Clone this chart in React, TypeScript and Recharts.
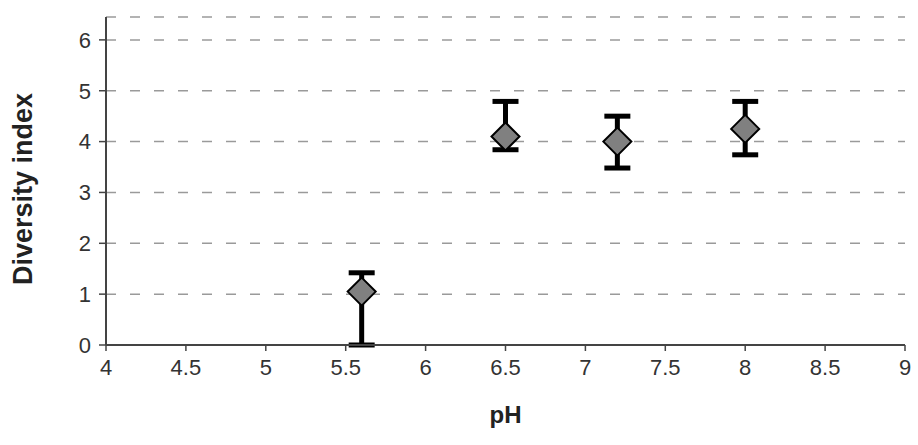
import React from "react";
import {
  ScatterChart,
  Scatter,
  XAxis,
  YAxis,
  CartesianGrid,
  ErrorBar,
  Label,
} from "recharts";

// pH values and diversity index readings with error bar bounds
const phValues = [5.6, 6.5, 7.2, 8.0];
const diversity = [1.05, 4.1, 4.0, 4.25];
const lowerBound = [0, 3.84, 3.48, 3.74];
const upperBound = [1.42, 4.79, 4.5, 4.79];

const xTicks = [4, 4.5, 5, 5.5, 6, 6.5, 7, 7.5, 8, 8.5, 9];
const yTicks = [0, 1, 2, 3, 4, 5, 6];

const data = phValues.map((ph, i) => ({
  ph,
  value: diversity[i],
  err: [diversity[i] - lowerBound[i], upperBound[i] - diversity[i]],
}));

const FONT = "'Liberation Sans', Arial, sans-serif";

const Diamond = (props: any) => {
  const { cx, cy } = props;
  if (cx == null || cy == null) return null;
  const w = 14;
  const h = 14;
  return (
    <polygon
      points={`${cx},${cy - h} ${cx + w},${cy} ${cx},${cy + h} ${cx - w},${cy}`}
      fill="#808080"
      stroke="#000"
      strokeWidth={2}
    />
  );
};

export default function App() {
  return (
    <div style={{ position: "absolute", left: 0, top: 0, background: "#fff" }}>
      <ScatterChart
        width={918}
        height={445}
        margin={{ top: 17, right: 13, left: 0, bottom: 40 }}
      >
        <CartesianGrid
          horizontal
          vertical={false}
          stroke="#9a9a9a"
          strokeWidth={1.5}
          strokeDasharray="10 14"
        />
        <XAxis
          type="number"
          dataKey="ph"
          domain={[4, 9]}
          ticks={xTicks}
          interval={0}
          height={60}
          axisLine={{ stroke: "#444", strokeWidth: 2 }}
          tickLine={{ stroke: "#444", strokeWidth: 1.5 }}
          tickSize={6}
          tick={{ fontSize: 22, fill: "#333", fontFamily: FONT, dy: 6 }}
        >
          <Label
            value="pH"
            position="insideBottom"
            offset={-18}
            style={{ fontSize: 24, fontWeight: "bold", fill: "#222", fontFamily: FONT }}
          />
        </XAxis>
        <YAxis
          type="number"
          dataKey="value"
          domain={[0, 6.45]}
          ticks={yTicks}
          interval={0}
          width={106}
          axisLine={{ stroke: "#444", strokeWidth: 2 }}
          tickLine={{ stroke: "#444", strokeWidth: 1.5 }}
          tickSize={7}
          tick={{ fontSize: 22, fill: "#333", fontFamily: FONT, dx: -6 }}
        >
          <Label
            value="Diversity index"
            angle={-90}
            position="insideLeft"
            offset={22}
            dy={8}
            style={{ fontSize: 27, fontWeight: "bold", fill: "#222", fontFamily: FONT, textAnchor: "middle" }}
          />
        </YAxis>
        <Scatter data={data} shape={<Diamond />} isAnimationActive={false}>
          <ErrorBar
            dataKey="err"
            direction="y"
            width={13}
            stroke="#000"
            strokeWidth={5}
          />
        </Scatter>
      </ScatterChart>
    </div>
  );
}
